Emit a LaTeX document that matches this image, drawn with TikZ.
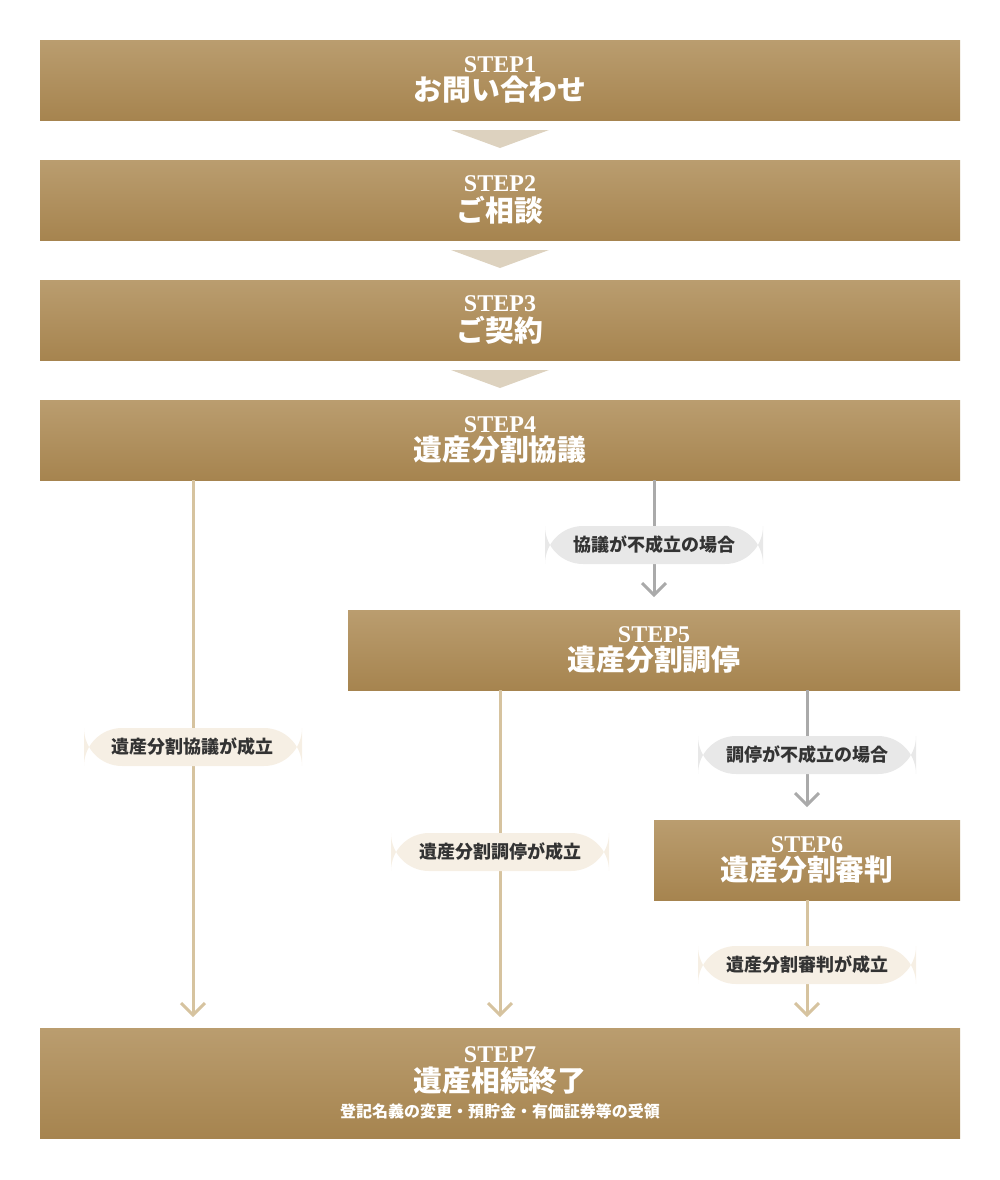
\documentclass[tikz,border=0pt]{standalone}
\usepackage{fontspec}
\setmainfont{Liberation Serif}
\newfontfamily\jpfont{Noto Sans CJK JP}
\definecolor{goldtop}{HTML}{BA9D6F}
\definecolor{goldbot}{HTML}{A6844F}
\definecolor{tanline}{HTML}{D6C39F}
\definecolor{pillbeige}{HTML}{F6EFE4}
\definecolor{greyline}{HTML}{AAAAAA}
\definecolor{pillgrey}{HTML}{E8E8E8}
\definecolor{trifill}{HTML}{DDD2BF}
\tikzset{
  stepbox/.style={inner sep=0pt, top color=goldtop, bottom color=goldbot, draw=none,
    text=white, align=center, font=\bfseries},
  pill/.style={rounded corners=19, minimum height=19pt, inner xsep=14pt, font=\jpfont\small\bfseries, text=black!80},
  okpill/.style={pill, fill=pillbeige},
  ngpill/.style={pill, fill=pillgrey},
  okline/.style={draw=tanline, line width=1.5pt},
  ngline/.style={draw=greyline, line width=1.5pt},
}
\newcommand{\chev}[2]{\draw[#1] ([shift={(-12,-12)}]#2) -- (#2) -- ([shift={(12,-12)}]#2);}
\newcommand{\stp}[2]{{\large STEP#1}\\[1pt]{\jpfont\Large #2}}
\begin{document}
\begin{tikzpicture}[x=0.5pt,y=-0.5pt]
  \useasboundingbox (0,0) rectangle (1000,1180);
  % steps
  \node[stepbox, minimum width=460pt, minimum height=40pt] (s1) at (500,80) {\stp{1}{お問い合わせ}};
  \node[stepbox, minimum width=460pt, minimum height=40pt] (s2) at (500,200) {\stp{2}{ご相談}};
  \node[stepbox, minimum width=460pt, minimum height=40pt] (s3) at (500,320) {\stp{3}{ご契約}};
  \node[stepbox, minimum width=460pt, minimum height=40pt] (s4) at (500,440) {\stp{4}{遺産分割協議}};
  \node[stepbox, minimum width=306pt, minimum height=40pt] (s5) at (654,650) {\stp{5}{遺産分割調停}};
  \node[stepbox, minimum width=153pt, minimum height=40pt] (s6) at (807,860) {\stp{6}{遺産分割審判}};
  \node[stepbox, minimum width=460pt, minimum height=55pt] (s7) at (500,1083)
    {{\large STEP7}\\[1pt]{\jpfont\Large 遺産相続終了}\\[1pt]{\jpfont\footnotesize 登記名義の変更・預貯金・有価証券等の受領}};
  % triangles
  \foreach \y in {130,250,370}
    \fill[trifill] (451,\y) -- (549,\y) -- (500,\y+18) -- cycle;
  % end points
  \coordinate (e1) at (193,1015);
  \coordinate (e2) at (500,1015);
  \coordinate (e3) at (807,1015);
  \coordinate (n1) at (654,595);
  \coordinate (n2) at (807,805);
  % connectors
  \draw[okline] (s4.south -| e1) -- (e1); \chev{okline}{e1}
  \draw[ngline] (s4.south -| n1) -- (n1); \chev{ngline}{n1}
  \draw[okline] (s5.south -| e2) -- (e2); \chev{okline}{e2}
  \draw[ngline] (s5.south -| n2) -- (n2); \chev{ngline}{n2}
  \draw[okline] (s6.south) -- (e3); \chev{okline}{e3}
  % labels
  \node[okpill] (l1) at (193,747) {遺産分割協議が成立};
  \node[ngpill] (l2) at (654,545) {協議が不成立の場合};
  \node[okpill] (l3) at (500,852) {遺産分割調停が成立};
  \node[ngpill] (l4) at (807,755) {調停が不成立の場合};
  \node[okpill] (l5) at (807,965) {遺産分割審判が成立};
\end{tikzpicture}
\end{document}
